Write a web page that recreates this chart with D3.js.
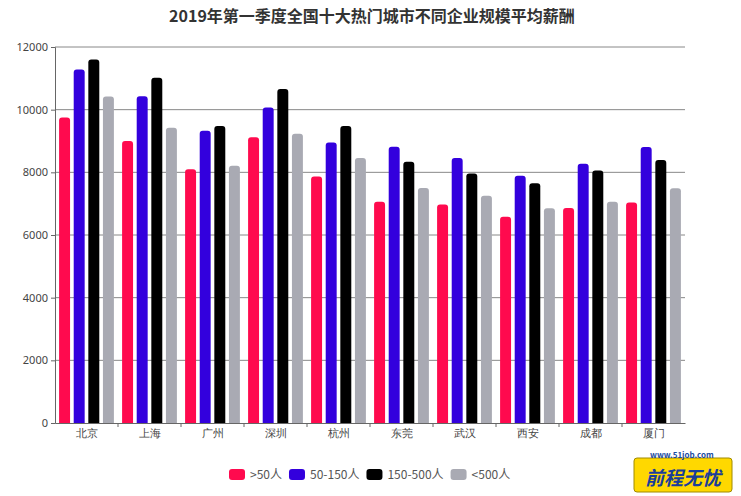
<!DOCTYPE html>
<html><head><meta charset="utf-8">
<script src="https://cdn.jsdelivr.net/npm/d3@7"></script>
<style>body{margin:0;background:#fff;font-family:"Noto Sans CJK SC","Noto Sans",sans-serif}</style>
</head><body><svg id="chart" width="741" height="496"></svg>
<script>
const cities = ["北京","上海","广州","深圳","杭州","东莞","武汉","西安","成都","厦门"];
const seriesNames = [">50人","50-150人","150-500人","<500人"];
const colors = ["#ff0a4e","#3300dd","#000000","#a9aab3"];
const s1 = [9750,9000,8100,9120,7870,7060,6970,6580,6860,7040];
const s2 = [11280,10430,9330,10070,8950,8820,8460,7890,8270,8810];
const s3 = [11600,11020,9480,10660,9480,8340,7960,7650,8060,8390];
const s4 = [10420,9420,8210,9230,8460,7500,7250,6850,7060,7490];
const yTicks = [0,2000,4000,6000,8000,10000,12000];
const series = [s1,s2,s3,s4];

const svg = d3.select("#chart");
const m = {left:55, right:685, top:47, bottom:423};

const x = d3.scaleBand().domain(cities).range([m.left, m.right]);
const y = d3.scaleLinear().domain([0,12000]).range([m.bottom, m.top]);

svg.append("text").attr("x",372).attr("y",22).attr("text-anchor","middle")
  .attr("font-size",16).attr("font-weight","bold").attr("fill","#333")
  .text("2019年第一季度全国十大热门城市不同企业规模平均薪酬");

// grid lines
svg.append("g").selectAll("line").data(yTicks.filter(d => d > 0)).join("line")
  .attr("x1",m.left).attr("x2",m.right).attr("y1",d => y(d)).attr("y2",d => y(d))
  .attr("stroke","#888").attr("stroke-width",1);

const ya = svg.append("g").attr("transform",`translate(${m.left},0)`)
  .call(d3.axisLeft(y).tickValues(yTicks).tickSize(4).tickFormat(d3.format("d")));
ya.selectAll("text").attr("font-size",11).attr("fill","#444").attr("font-family","Noto Sans");
ya.selectAll("line,path").attr("stroke","#666");

const xa = svg.append("g").attr("transform",`translate(0,${m.bottom})`)
  .call(d3.axisBottom(x).tickSize(0).tickPadding(6));
xa.selectAll("text").attr("font-size",11).attr("fill","#444");
xa.select("path").attr("stroke","#666");
xa.selectAll(".tk").data(cities.slice(1)).join("line")
  .attr("x1",d => x(d)).attr("x2",d => x(d)).attr("y1",0).attr("y2",4).attr("stroke","#666");

const inner = d3.scaleBand().domain(d3.range(4)).range([0, x.bandwidth()]).paddingInner(0.25).paddingOuter(0.28);
const bw = inner.bandwidth();
series.forEach((vals, si) => {
  svg.append("g").selectAll("path").data(vals).join("path")
    .attr("fill", colors[si])
    .attr("d", (v, i) => {
      const x0 = x(cities[i]) + inner(si), y0 = y(v), r = 3, yb = y(0);
      return `M${x0},${yb}V${y0+r}Q${x0},${y0} ${x0+r},${y0}H${x0+bw-r}Q${x0+bw},${y0} ${x0+bw},${y0+r}V${yb}Z`;
    });
});

// legend
const lg = svg.append("g").attr("transform","translate(229,475)");
let lx = 0;
seriesNames.forEach((n, i) => {
  lg.append("rect").attr("x",lx).attr("y",-6).attr("width",16).attr("height",11).attr("rx",3).attr("fill",colors[i]);
  const t = lg.append("text").attr("x",lx+21).attr("y",4).attr("font-size",12).attr("fill","#555").text(n);
  lx += 21 + t.node().getComputedTextLength() + 7;
});

// logo
const logo = svg.append("g").attr("transform","translate(634,448)");
logo.append("rect").attr("x",0).attr("y",10).attr("width",98).attr("height",34).attr("rx",3)
  .attr("fill","#ffd800").attr("stroke","#a08a00");
logo.append("text").attr("x",16).attr("y",10).attr("font-size",8).attr("font-weight","bold").attr("fill","#1a4aa0").text("www.51job.com");
logo.append("text").attr("x",49).attr("y",37).attr("text-anchor","middle").attr("font-size",19)
  .attr("font-weight","bold").attr("font-style","italic").attr("fill","#1a3d9a").text("前程无忧");
</script></body></html>
